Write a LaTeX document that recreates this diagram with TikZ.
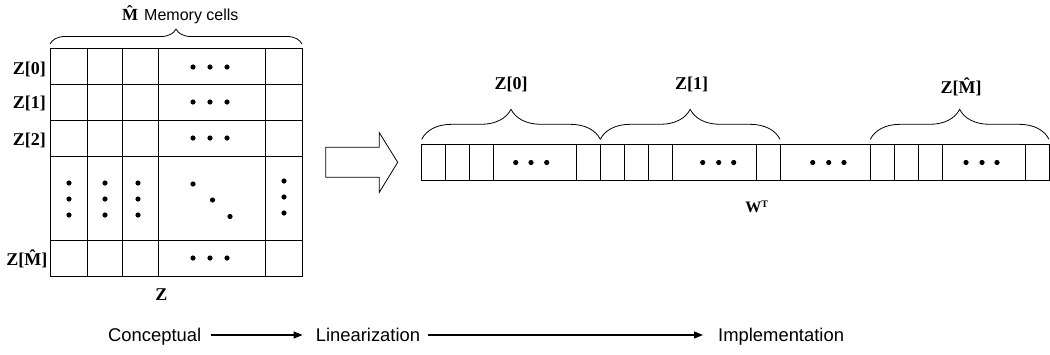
\documentclass[tikz,border=0pt]{standalone}
\usepackage{fontspec}
\setmainfont{Liberation Serif}
\setsansfont{Liberation Sans}
\usetikzlibrary{decorations.pathreplacing,arrows.meta}
\newcommand{\Mhat}{\^{M}}
\begin{document}
\begin{tikzpicture}[x=1pt,y=-1pt,
  lbl/.style={font=\fontsize{18}{20}\selectfont\bfseries, inner sep=0pt},
  wlbl/.style={font=\fontsize{16}{18}\selectfont\bfseries, inner sep=0pt},
  sanslbl/.style={font=\sffamily\fontsize{18.4}{20}\selectfont, inner sep=0pt, text height=13pt, text depth=1pt},
  gridl/.style={line width=0.8pt},
  bigbrace/.style={decorate, decoration={brace, amplitude=30pt}, line width=0.8pt},
  smallbrace/.style={decorate, decoration={brace, amplitude=15pt}, line width=0.8pt},
  flow/.style={line width=1.3pt, -{Triangle[length=9pt,width=7pt]}},
  bigarrow/.style={line width=0.8pt, fill=white}
]
\useasboundingbox (0,0) rectangle (1050,354);

% ---------- conceptual grid ----------
\draw[gridl] (50,48) rectangle (302,276);
\foreach \yy in {84,120,156,240} \draw[gridl] (50,\yy) -- (302,\yy);
\foreach \xx in {87,122,158,265} \draw[gridl] (\xx,48) -- (\xx,276);

\foreach \yy in {67,102,138,258}
  \foreach \xx in {193,210,227} \fill (\xx,\yy) circle (2.6);
\foreach \xx in {69,105,138}
  \foreach \yy in {183,199,215} \fill (\xx,\yy) circle (2.6);
\foreach \yy in {181,197,213} \fill (284,\yy) circle (2.6);
\fill (193,184) circle (2.6);
\fill (212.5,200) circle (2.6);
\fill (230,216.5) circle (2.6);

\node[lbl, anchor=base east] (z0) at (46,74) {Z[0]};
\node[lbl, anchor=base east] (z1) at (46,108) {Z[1]};
\node[lbl, anchor=base east] (z2) at (46,145) {Z[2]};
\node[lbl, anchor=base east] (zm) at (47.5,265) {Z[\Mhat]};
\node[lbl, anchor=base] (zlab) at (161.5,300) {Z};

\draw[smallbrace] (50,44) -- (302,44);
\node[anchor=base west, inner sep=0pt] (mcells) at (122,20)
  {{\fontsize{17}{18}\selectfont\bfseries \Mhat}\hspace{6pt}{\sffamily\fontsize{16}{18}\selectfont Memory cells}};

% ---------- big arrow ----------
\draw[bigarrow] (325.7,147.3) -- (379.3,147.3) -- (379.3,132.7) -- (397.7,162.3)
  -- (379.3,192.3) -- (379.3,177.3) -- (325.7,177.3) -- cycle;

% ---------- linear array ----------
\draw[gridl] (421.7,144.3) rectangle (1049.5,180.7);
\foreach \xx in {445.3,469.3,493.3,576.7,600.3,624.3,648.3,672.3,756.7,780,870.3,894.3,918.3,942,1025.7}
  \draw[gridl] (\xx,144.3) -- (\xx,180.7);
\foreach \xx in {515.7,531,546.7,702.7,718.7,733.7,812.7,828.7,844,966,982,997}
  \fill (\xx,162.5) circle (2.6);

\draw[bigbrace] (421.7,139.3) -- (600.3,139.3);
\draw[bigbrace] (600.3,139.3) -- (780,139.3);
\draw[bigbrace] (870.3,139.3) -- (1049,139.3);

\node[lbl, anchor=base] (lz0) at (511,89.5) {Z[0]};
\node[lbl, anchor=base] (lz1) at (691.7,89.5) {Z[1]};
\node[lbl, anchor=base] (lzm) at (961,93.5) {Z[\Mhat]};
\node[wlbl, anchor=base] (wt) at (756.7,212.7) {W\raisebox{5pt}{\fontsize{10}{11}\selectfont T}};

% ---------- bottom flow ----------
\node[sanslbl, anchor=base west] (concept) at (108,341) {Conceptual};
\node[sanslbl, anchor=base west] (linear) at (315.6,341) {Linearization};
\node[sanslbl, anchor=base west] (impl) at (718,341) {Implementation};
\draw[flow, shorten <=10pt, shorten >=13pt] (concept.east) -- (linear.west);
\draw[flow, shorten <=8pt, shorten >=15pt] (linear.east) -- (impl.west);
\end{tikzpicture}
\end{document}
